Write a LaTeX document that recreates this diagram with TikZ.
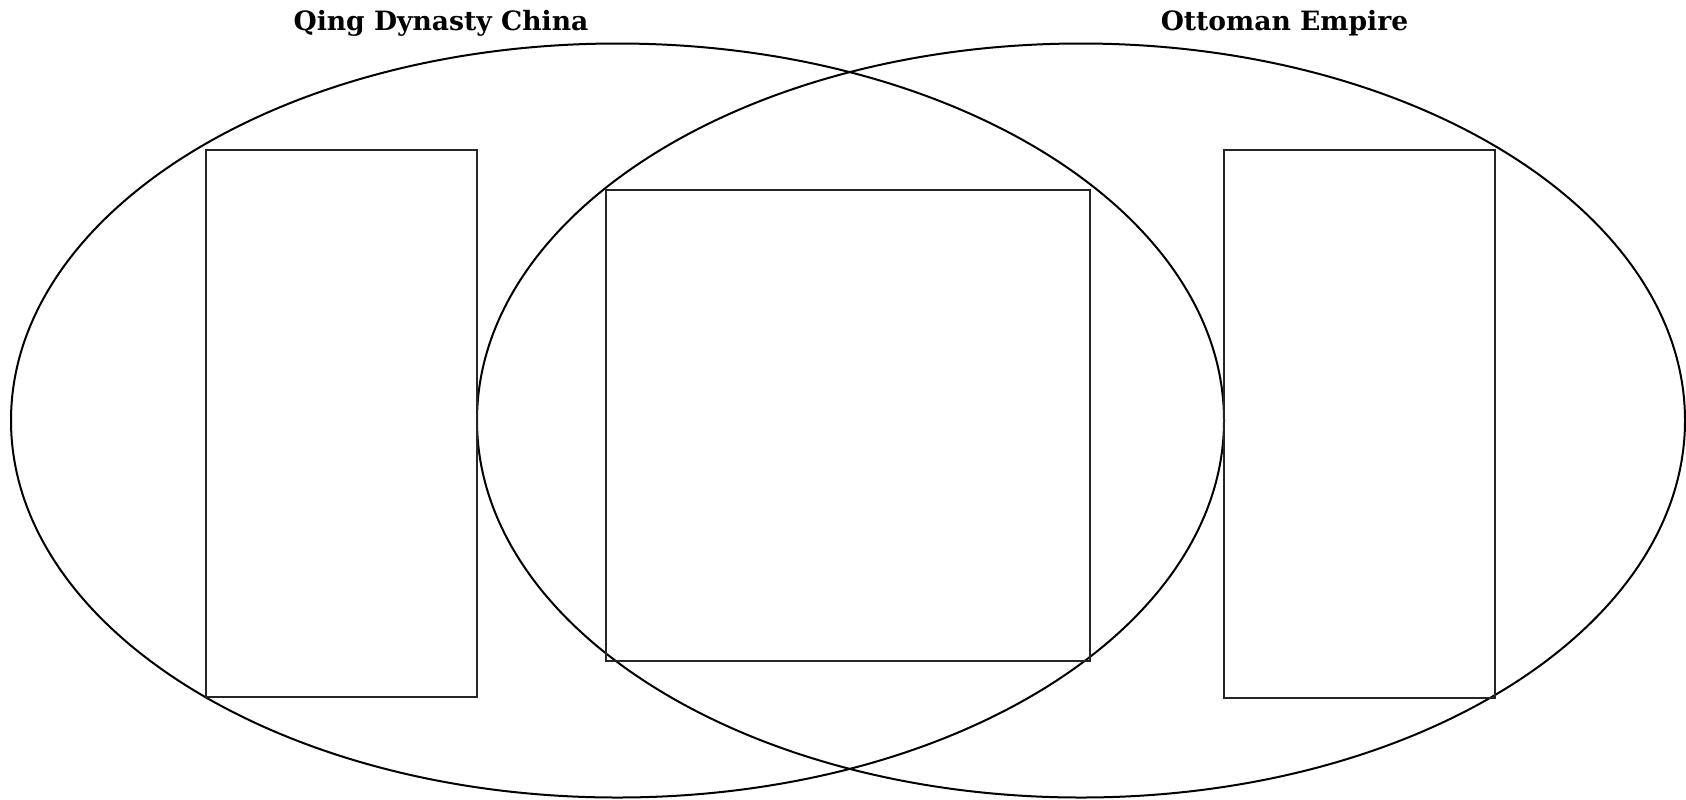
\documentclass[tikz,border=0pt]{standalone}
\usepackage{fontspec}
\setmainfont{DejaVu Serif}
\begin{document}
\begin{tikzpicture}[x=0.5pt,y=-0.5pt,
  circ/.style={draw=black,line width=1pt},
  box/.style={draw=black!85,line width=0.75pt,fill=none},
  ttl/.style={font=\bfseries\fontsize{13.3}{15}\selectfont,anchor=base,inner sep=0pt}]
\useasboundingbox (0,0) rectangle (1686,799);
\draw[circ] (617.5,420.5) ellipse [x radius=606.5, y radius=377];
\draw[circ] (1081,420.5) ellipse [x radius=604, y radius=377];
\draw[box] (206,150) rectangle (477,697);
\draw[box] (606,190) rectangle (1090,661);
\draw[box] (1224,150) rectangle (1495,698);
\node[ttl] (t1) at (441,30) {Qing Dynasty China};
\node[ttl] (t2) at (1284.5,30) {Ottoman Empire};
\end{tikzpicture}
\end{document}
